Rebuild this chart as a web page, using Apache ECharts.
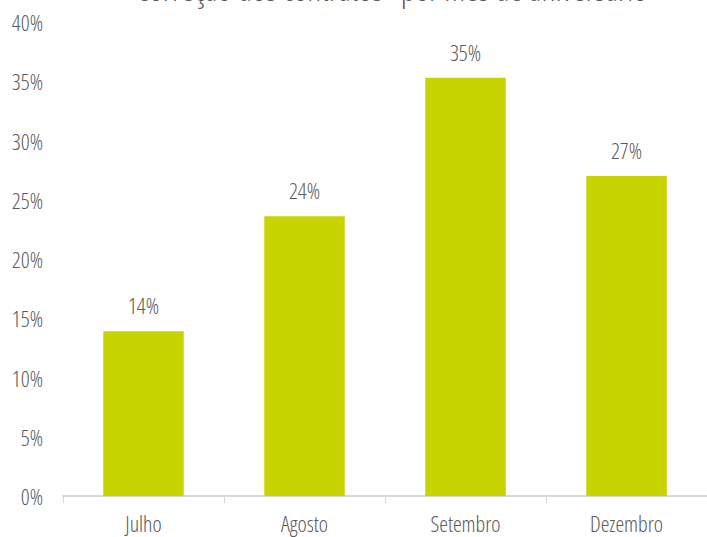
<!DOCTYPE html>
<html>
<head>
<meta charset="utf-8">
<script src="https://cdn.jsdelivr.net/npm/echarts@6/dist/echarts.min.js"></script>
<style>
  html, body { margin: 0; padding: 0; background: #ffffff; }
  #chart { width: 707px; height: 537px; }
  /* narrow cut of the variable Open Sans for every chart text */
  #chart svg text { font-stretch: 86% !important; }
</style>
</head>
<body>
<div id="chart"></div>
<script>
// Share of contracts adjusted, by anniversary month
const titleText = 'Correção dos contratos* por mês de aniversário';
const months = ['Julho', 'Agosto', 'Setembro', 'Dezembro'];
const shares = [13.9, 23.6, 35.3, 27.0];
const yTicks = { min: 0, max: 40, interval: 5 };

const FONT = '"Open Sans", "DejaVu Sans Condensed", sans-serif';
const TEXT = '#595959';

const chart = echarts.init(document.getElementById('chart'), null, { renderer: 'svg' });
chart.setOption({
  animation: false,
  title: {
    text: titleText,
    left: 386,
    textAlign: 'center',
    top: -33,
    textStyle: { fontFamily: FONT, fontSize: 33, fontWeight: 300, color: TEXT }
  },
  grid: { left: 63, right: 0, top: 22, bottom: 41, containLabel: false, outerBoundsMode: 'none' },
  xAxis: {
    type: 'category',
    data: months,
    axisLine: { lineStyle: { color: '#d9d9d9', width: 2 } },
    axisTick: { show: true, length: 7, lineStyle: { color: '#d9d9d9', width: 1 } },
    axisLabel: { fontFamily: FONT, fontSize: 22, lineHeight: 22, fontWeight: 300, color: TEXT, margin: 16, interval: 0 }
  },
  yAxis: {
    type: 'value',
    min: yTicks.min,
    max: yTicks.max,
    interval: yTicks.interval,
    splitLine: { show: false },
    axisLine: { show: false },
    axisTick: { show: false },
    axisLabel: {
      fontFamily: FONT, fontSize: 22, fontWeight: 300, color: TEXT, margin: 20,
      formatter: v => v + '%'
    }
  },
  series: [{
    type: 'bar',
    data: shares,
    barWidth: '50%',
    itemStyle: { color: '#c8d400' },
    label: {
      show: true,
      position: 'top',
      distance: 15,
      fontFamily: FONT, fontSize: 22, fontWeight: 300, color: TEXT,
      formatter: p => Math.round(p.value) + '%'
    }
  }]
});
</script>
</body>
</html>
